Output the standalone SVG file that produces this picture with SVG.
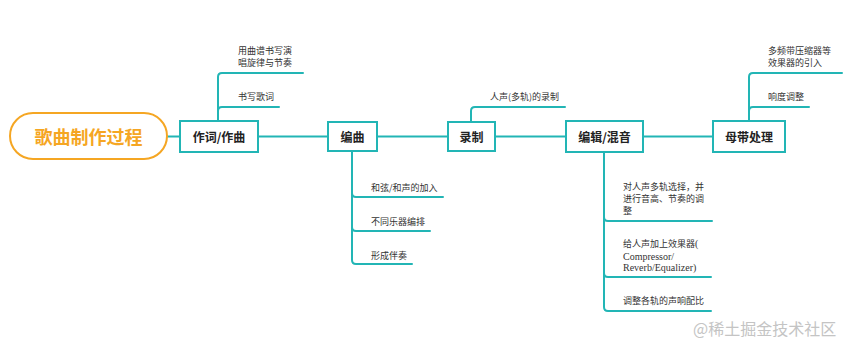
<svg xmlns="http://www.w3.org/2000/svg" width="858" height="345" viewBox="0 0 858 345">
<style>
.c{fill:none;stroke:#22b5b5;stroke-width:2;stroke-linecap:round;stroke-linejoin:round}
.box{fill:#fff;stroke:#22b5b5;stroke-width:2}
.nt{font-family:"Noto Sans CJK SC","Noto Sans",sans-serif;font-size:12px;font-weight:bold;fill:#222;text-anchor:middle;dominant-baseline:central}
.lt{font-family:"Noto Sans CJK SC","Noto Sans",sans-serif;font-size:9px;fill:#333;dominant-baseline:central}
.sf{font-family:"Liberation Serif","Noto Sans CJK SC",serif;font-size:10px;fill:#333;dominant-baseline:central}
</style>
<rect width="858" height="345" fill="#fff"/>
<g id="connectors">
<path class="c" d="M167,136.5H180M258,136.5H328M377,136.5H448M495,136.5H566M643,136.5H713"/>
<path class="c" d="M218,121V77Q218,73 222,73H303M218,111Q218,107 222,107H279"/>
<path class="c" d="M352,151V260Q352,264 356,264H412M352,193Q352,197 356,197H443M352,227Q352,231 356,231H430"/>
<path class="c" d="M471,122V111Q471,107 475,107H565"/>
<path class="c" d="M604,152V307Q604,311 608,311H711M604,217Q604,221 608,221H712M604,273Q604,277 608,277H711"/>
<path class="c" d="M749,121V77Q749,73 753,73H842M749,111Q749,107 753,107H809"/>
</g>
<g id="root">
<rect x="10" y="113" width="157" height="46" rx="23" fill="#fff" stroke="#f5a623" stroke-width="2"/>
<text x="88.5" y="136" font-family="Noto Sans CJK SC,sans-serif" font-size="18" font-weight="bold" fill="#f5a623" text-anchor="middle" dominant-baseline="central">歌曲制作过程</text>
</g>
<g id="n1">
<rect class="box" x="180" y="121" width="78" height="31"/>
<text class="nt" x="219" y="136.5">作词/作曲</text>
<text class="lt" x="238" y="50">用曲谱书写演</text>
<text class="lt" x="238" y="62.5">唱旋律与节奏</text>
<text class="lt" x="238" y="96">书写歌词</text>
</g>
<g id="n2">
<rect class="box" x="328" y="122" width="49" height="29"/>
<text class="nt" x="352.5" y="136.5">编曲</text>
<text class="lt" x="371" y="187">和弦/和声的加入</text>
<text class="lt" x="371" y="221">不同乐器编排</text>
<text class="lt" x="371" y="255">形成伴奏</text>
</g>
<g id="n3">
<rect class="box" x="448" y="122" width="47" height="29"/>
<text class="nt" x="471.5" y="136.5">录制</text>
<text class="lt" x="490" y="96">人声(多轨)的录制</text>
</g>
<g id="n4">
<rect class="box" x="566" y="121" width="77" height="31"/>
<text class="nt" x="604.5" y="136.5">编辑/混音</text>
<text class="lt" x="623" y="186">对人声多轨选择，并</text>
<text class="lt" x="623" y="198">进行音高、节奏的调</text>
<text class="lt" x="623" y="210">整</text>
<text class="lt" x="623" y="243">给人声加上效果器<tspan class="sf" font-size="10">(</tspan></text>
<text class="sf" x="623" y="256">Compressor/</text>
<text class="sf" x="623" y="267">Reverb/Equalizer)</text>
<text class="lt" x="623" y="300">调整各轨的声响配比</text>
</g>
<g id="n5">
<rect class="box" x="713" y="121" width="72" height="31"/>
<text class="nt" x="749" y="136.5">母带处理</text>
<text class="lt" x="768" y="50">多频带压缩器等</text>
<text class="lt" x="768" y="62.5">效果器的引入</text>
<text class="lt" x="768" y="96">响度调整</text>
</g>
<text x="693" y="328" font-family="Noto Sans CJK SC,sans-serif" font-size="16" fill="#c4c4c4" dominant-baseline="central">@稀土掘金技术社区</text>
</svg>
